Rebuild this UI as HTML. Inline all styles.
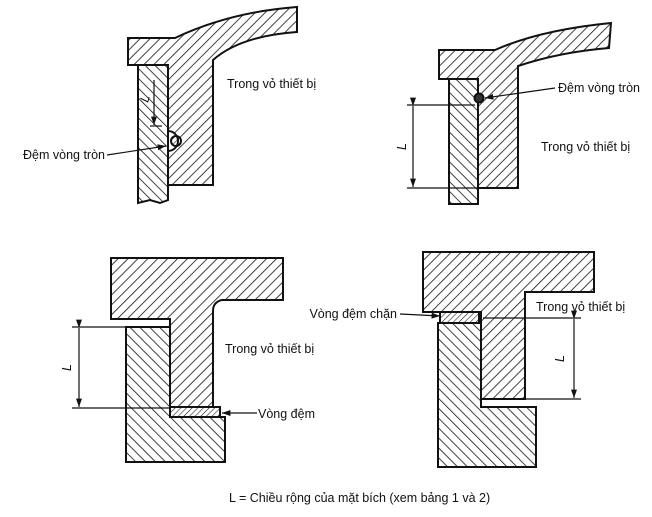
<!DOCTYPE html>
<html><head><meta charset="utf-8"><style>
html,body{margin:0;padding:0;background:#fff;}
svg{display:block;}
text{font-family:"Liberation Sans",sans-serif;font-size:12.5px;fill:#111;}
</style></head><body>
<svg width="652" height="517" viewBox="0 0 652 517" xmlns="http://www.w3.org/2000/svg">
<defs>
<pattern id="hf" width="7" height="7" patternUnits="userSpaceOnUse" patternTransform="rotate(45)">
<line x1="0" y1="0" x2="0" y2="7" stroke="#111" stroke-width="1.6"/></pattern>
<pattern id="hb" width="7" height="7" patternUnits="userSpaceOnUse" patternTransform="rotate(-45)">
<line x1="0" y1="0" x2="0" y2="7" stroke="#111" stroke-width="1.6"/></pattern>
<pattern id="hs" width="4" height="4" patternUnits="userSpaceOnUse" patternTransform="rotate(45)">
<line x1="0" y1="0" x2="0" y2="4" stroke="#111" stroke-width="1.1"/></pattern>
<marker id="ar" markerWidth="8" markerHeight="8" refX="7" refY="4" orient="auto"><path d="M0,1.5 L7,4 L0,6.5z" fill="#111"/></marker>
</defs>
<g stroke="#111" stroke-width="2">
<!-- Q1 -->
<path d="M138,65 L168,65 L168,200 L160,203 L150,200 L138,203 Z" fill="url(#hb)"/>
<path d="M128,38 L175,38 Q230,12 297,7 L297,32 Q240,36 213,60 L213,185 L168,185 L168,65 L128,65 Z" fill="url(#hf)"/>
<path d="M168,131 A10,10 0 0 1 168,151 Z" fill="#fff"/>
<circle cx="176" cy="141" r="5" fill="url(#hs)"/>
<!-- Q2 -->
<path d="M449,79 L478,79 L478,204 L449,204 Z" fill="url(#hb)"/>
<path d="M439,50 L495,50 Q540,30 611,23 L609,48 Q560,52 518,66 L518,188 L478,188 L478,79 L439,79 Z" fill="url(#hf)"/>
<circle cx="479" cy="98" r="4.5" fill="#333"/>
<!-- Q3 -->
<path d="M126,327 L170,327 L170,417 L225,417 L225,462 L126,462 Z" fill="url(#hb)"/>
<path d="M111,258 L283,258 L283,300 L222,300 Q213,302 213,311 L213,407 L170,407 L170,319 L111,319 Z" fill="url(#hf)"/>
<rect x="170" y="407" width="50" height="10" fill="url(#hs)"/>
<!-- Q4 -->
<path d="M438,323 L481,323 L481,407 L536,407 L536,467 L438,467 Z" fill="url(#hb)"/>
<path d="M423,252 L594,252 L594,292 L525,292 L525,399 L481,399 L481,312 L423,312 Z" fill="url(#hf)"/>
<rect x="440" y="312" width="39" height="11" fill="url(#hs)"/>
</g>
<g stroke="#111" stroke-width="1.2" fill="none">
<line x1="154" y1="80" x2="154" y2="125" marker-end="url(#ar)"/>
<line x1="150" y1="126" x2="162" y2="126"/>
<line x1="107" y1="155" x2="166" y2="146" marker-end="url(#ar)"/>
<line x1="407" y1="105" x2="475" y2="105"/>
<line x1="407" y1="188" x2="478" y2="188"/>
<line x1="413" y1="106" x2="413" y2="187" marker-start="url(#ar)" marker-end="url(#ar)"/>
<line x1="555" y1="88" x2="485" y2="98" marker-end="url(#ar)"/>
<line x1="72" y1="327" x2="126" y2="327"/>
<line x1="72" y1="408" x2="170" y2="408"/>
<line x1="79" y1="328" x2="79" y2="407" marker-start="url(#ar)" marker-end="url(#ar)"/>
<line x1="257" y1="413" x2="222" y2="413" marker-end="url(#ar)"/>
<line x1="483" y1="318" x2="581" y2="318"/>
<line x1="525" y1="399" x2="581" y2="399"/>
<line x1="574" y1="319" x2="574" y2="398" marker-start="url(#ar)" marker-end="url(#ar)"/>
<line x1="400" y1="314" x2="440" y2="316" marker-end="url(#ar)"/>
</g>
<text x="148" y="103" transform="rotate(-75 148 103)" font-style="italic">L</text>
<text x="105" y="159" text-anchor="end">Đệm vòng tròn</text>
<text x="227" y="88">Trong vỏ thiết bị</text>
<text x="558" y="92">Đệm vòng tròn</text>
<text x="541" y="151">Trong vỏ thiết bị</text>
<text x="406" y="150" transform="rotate(-90 406 150)" font-style="italic">L</text>
<text x="225" y="353">Trong vỏ thiết bị</text>
<text x="258" y="418">Vòng đệm</text>
<text x="71" y="371" transform="rotate(-90 71 371)" font-style="italic">L</text>
<text x="536" y="311">Trong vỏ thiết bị</text>
<text x="397" y="318" text-anchor="end">Vòng đệm chặn</text>
<text x="564" y="362" transform="rotate(-90 564 362)" font-style="italic">L</text>
<text x="229" y="502">L = Chiều rộng của mặt bích (xem bảng 1 và 2)</text>
</svg>
</body></html>
